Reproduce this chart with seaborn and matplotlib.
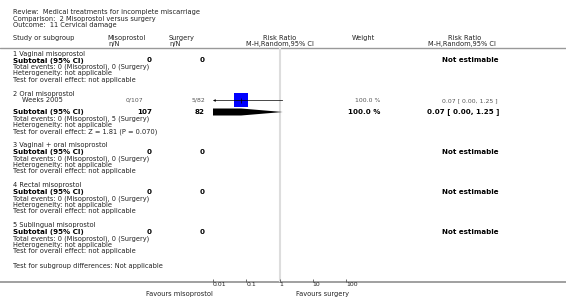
import matplotlib
matplotlib.use("Agg")
import matplotlib.pyplot as plt
import seaborn as sns
import pandas as pd

# 데이터
review = "Review:  Medical treatments for incomplete miscarriage"
comparison = "Comparison:  2 Misoprostol versus surgery"
outcome = "Outcome:  11 Cervical damage"

groups = ["1 Vaginal misoprostol", "2 Oral misoprostol", "3 Vaginal + oral misoprostol",
          "4 Rectal misoprostol", "5 Sublingual misoprostol"]
total_miso = [0, 107, 0, 0, 0]
total_surg = [0, 82, 0, 0, 0]
events_miso = [0, 0, 0, 0, 0]
events_surg = [0, 5, 0, 0, 0]
overall_effect = ["not applicable", "Z = 1.81 (P = 0.070)", "not applicable",
                  "not applicable", "not applicable"]
sub_weight = [None, 100.0, None, None, None]
sub_rr = [None, 0.07, None, None, None]
sub_lo = [None, 0.00, None, None, None]
sub_hi = [None, 1.25, None, None, None]

# 연구 (그룹 번호 기준)
study_group = [2]
study_names = ["Weeks 2005"]
study_miso = ["0/107"]
study_surg = ["5/82"]
study_weight = [100.0]
study_rr = [0.07]
study_lo = [0.00]
study_hi = [1.25]

axis_ticks = [0.01, 0.1, 1, 10, 100]
axis_labels = ["0.01", "0.1", "1", "10", "100"]
favours_left = "Favours misoprostol"
favours_right = "Favours surgery"

sns.set_style("white")
plt.rcParams['font.family'] = ['DejaVu Sans']

W, H = 566, 305
fig = plt.figure(figsize=(W / 100, H / 100), dpi=100)
ax = fig.add_axes([0, 0, 1, 1])
ax.set_xlim(0, W)
ax.set_ylim(H, 0)
ax.axis('off')

# forest plot 영역 (0.01 ~ 100)
x0, x1, ytop, ybot = 213, 346, 48, 282
fx = fig.add_axes([x0 / W, (H - ybot) / H, (x1 - x0) / W, (ybot - ytop) / H])
fx.set_xscale('log')
fx.set_xlim(0.01, 100)
fx.set_ylim(ybot, ytop)
fx.patch.set_alpha(0)
for s in fx.spines.values():
    s.set_visible(False)

fs = 4.75
fss = 4.4
fsb = 5.15
tc = '#222222'

# 제목
ax.text(13, 12, review, fontsize=fs, color=tc, va='center')
ax.text(13, 18.5, comparison, fontsize=fs, color=tc, va='center')
ax.text(13, 25, outcome, fontsize=fs, color=tc, va='center')

# 헤더
ax.text(13, 38, "Study or subgroup", fontsize=fs, color=tc, va='center')
ax.text(126, 38, "Misoprostol", fontsize=fs, color=tc, va='center', ha='center')
ax.text(120, 44, "n/N", fontsize=fs, color=tc, va='center', ha='right')
ax.text(182, 38, "Surgery", fontsize=fs, color=tc, va='center', ha='center')
ax.text(181, 44, "n/N", fontsize=fs, color=tc, va='center', ha='right')
ax.text(280, 38, "Risk Ratio", fontsize=fs, color=tc, va='center', ha='center')
ax.text(280, 44, "M-H,Random,95% CI", fontsize=fs, color=tc, va='center', ha='center')
ax.text(363, 38, "Weight", fontsize=fs, color=tc, va='center', ha='center')
ax.text(465, 38, "Risk Ratio", fontsize=fs, color=tc, va='center', ha='center')
ax.text(462, 44, "M-H,Random,95% CI", fontsize=fs, color=tc, va='center', ha='center')
ax.plot([0, W], [48, 48], color='#999999', lw=1.0)

# 기준선 (RR = 1)
fx.vlines(1, ytop, ybot, color='#dddddd', lw=1.5, zorder=0)

step = 6.5
y = 54
square_rows = []
for g, name in enumerate(groups):
    ax.text(13, y, name, fontsize=fs, color=tc, va='center')
    y += step
    for k in range(len(study_group)):
        if study_group[k] != g + 1:
            continue
        ax.text(22, y, study_names[k], fontsize=fs, color=tc, va='center')
        ax.text(143, y, study_miso[k], fontsize=fss, color='#555555', va='center', ha='right')
        ax.text(205, y, study_surg[k], fontsize=fss, color='#555555', va='center', ha='right')
        ax.text(380, y, "%.1f %%" % study_weight[k], fontsize=fss, color='#555555', va='center', ha='right')
        ax.text(498, y, "%.2f [ %.2f, %.2f ]" % (study_rr[k], study_lo[k], study_hi[k]),
                fontsize=fss, color='#555555', va='center', ha='right')
        square_rows.append((study_rr[k], study_lo[k], study_hi[k], y))
        y += 11.5
    # 소계
    ax.text(13, y, "Subtotal (95% CI)", fontsize=fsb, fontweight='bold', color='black', va='center')
    ax.text(152, y, str(total_miso[g]), fontsize=fsb, fontweight='bold', color='black', va='center', ha='right')
    ax.text(205, y, str(total_surg[g]), fontsize=fsb, fontweight='bold', color='black', va='center', ha='right')
    if sub_rr[g] is None:
        ax.text(499, y, "Not estimable", fontsize=fsb, fontweight='bold', color='black', va='center', ha='right')
    else:
        ax.text(380, y, "%.1f %%" % sub_weight[g], fontsize=fsb, fontweight='bold', color='black', va='center', ha='right')
        ax.text(499, y, "%.2f [ %.2f, %.2f ]" % (sub_rr[g], sub_lo[g], sub_hi[g]),
                fontsize=fsb, fontweight='bold', color='black', va='center', ha='right')
        lo = max(sub_lo[g], 0.01)
        h = 3.5
        fx.fill([lo, sub_rr[g], sub_hi[g], sub_rr[g], lo],
                [y - h, y - h, y, y + h, y + h], color='black', lw=0)
    y += step
    ax.text(13, y, "Total events: %d (Misoprostol), %d (Surgery)" % (events_miso[g], events_surg[g]),
            fontsize=fs, color=tc, va='center')
    y += step
    ax.text(13, y, "Heterogeneity: not applicable", fontsize=fs, color=tc, va='center')
    y += step
    ax.text(13, y, "Test for overall effect: " + overall_effect[g], fontsize=fs, color=tc, va='center')
    y += 14

ax.text(13, 266, "Test for subgroup differences: Not applicable", fontsize=fs, color=tc, va='center')

# 연구 사각형 + 신뢰구간
df = pd.DataFrame(square_rows, columns=['rr', 'lo', 'hi', 'y'])
for _, r in df.iterrows():
    lo = max(r['lo'], 0.01)
    fx.annotate("", xy=(lo, r['y']), xytext=(r['hi'], r['y']),
                arrowprops=dict(arrowstyle='-|>', lw=0.5, color='black',
                                mutation_scale=3, shrinkA=0, shrinkB=0), zorder=3)
sns.scatterplot(data=df, x='rr', y='y', marker='s', s=105, color='#0000ff',
                edgecolor='#0000ff', linewidth=0, ax=fx, zorder=2, legend=False)
fx.vlines(df['rr'], df['y'] - 2.5, df['y'] + 2.5, color='black', lw=0.5, zorder=3)

# 축
ax.plot([0, W], [281.5, 281.5], color='#999999', lw=1.3)
fx.set_xticks(axis_ticks)
fx.set_xticklabels(axis_labels, fontsize=4.4, color=tc, ha='left')
fx.minorticks_off()
fx.tick_params(axis='x', direction='in', length=2, width=0.6, color='#555555', pad=0.3, bottom=True)
fx.set_yticks([])
fx.set_xlabel('')
fx.set_ylabel('')
ax.text(213, 294, favours_left, fontsize=fs, color=tc, va='center', ha='right')
ax.text(296, 294, favours_right, fontsize=fs, color=tc, va='center', ha='left')

fig.savefig("out.png", dpi=100)
